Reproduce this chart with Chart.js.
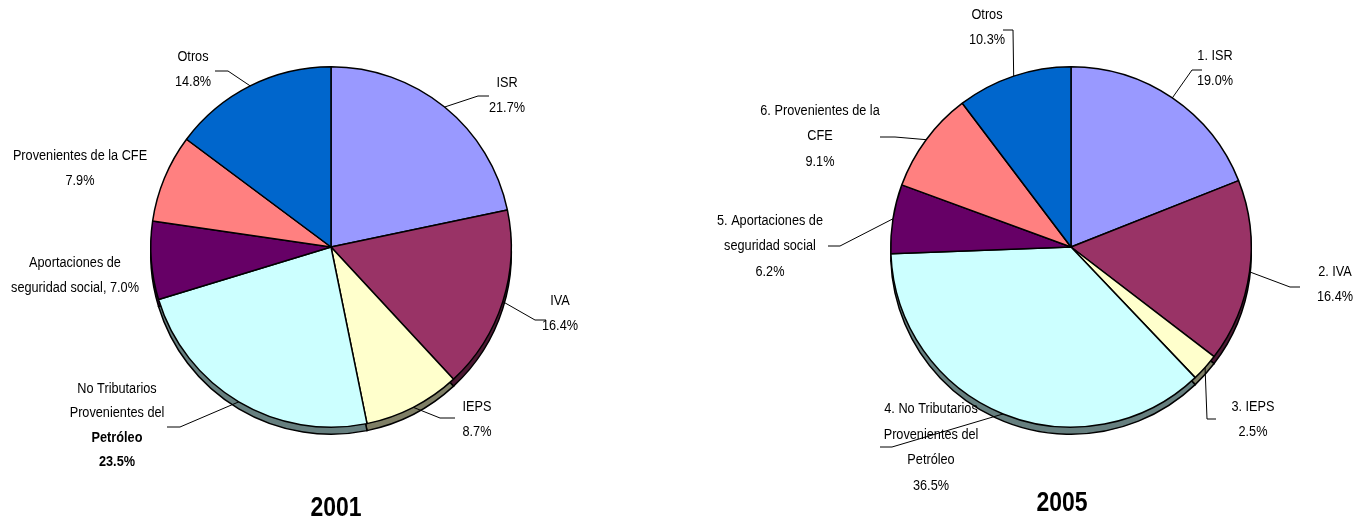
<!DOCTYPE html>
<html lang="es">
<head>
<meta charset="UTF-8">
<title>Ingresos presupuestarios 2001 y 2005</title>
<script src="https://cdn.jsdelivr.net/npm/chart.js"></script>
<style>
  html, body { margin: 0; padding: 0; background: #ffffff; }
  #wrap { position: relative; width: 1361px; height: 520px; overflow: hidden; }
  canvas { position: absolute; top: 0; }
  #pie2001 { left: 0; }
  #pie2005 { left: 680px; }
</style>
</head>
<body>
<div id="wrap">
  <canvas id="pie2001" width="680" height="520"></canvas>
  <canvas id="pie2005" width="681" height="520"></canvas>
</div>
<script>
// Composición de los ingresos (%), en el orden de las rebanadas a partir de las 12 en punto
const categories2001 = ['ISR', 'IVA', 'IEPS', 'No Tributarios Provenientes del Petróleo',
  'Aportaciones de seguridad social', 'Provenientes de la CFE', 'Otros'];
const values2001 = [21.7, 16.4, 8.7, 23.5, 7.0, 7.9, 14.8];

const categories2005 = ['1. ISR', '2. IVA', '3. IEPS', '4. No Tributarios Provenientes del Petróleo',
  '5. Aportaciones de seguridad social', '6. Provenientes de la CFE', 'Otros'];
const values2005 = [19.0, 16.4, 2.5, 36.5, 6.2, 9.1, 10.3];

// Colores de las rebanadas (paleta clásica de Excel)
const sliceColors = ['#9999ff', '#993366', '#ffffcc', '#ccffff', '#660066', '#ff8080', '#0066cc'];

// Texto de las etiquetas; {v} se sustituye por el porcentaje
const labelText2001 = [
  ['ISR', '{v}'],
  ['IVA', '{v}'],
  ['IEPS', '{v}'],
  ['No Tributarios', 'Provenientes del', 'Petróleo', '{v}'],
  ['Aportaciones de', 'seguridad social, {v}'],
  ['Provenientes de la CFE', '{v}'],
  ['Otros', '{v}']
];
const labelText2005 = [
  ['1. ISR', '{v}'],
  ['2. IVA', '{v}'],
  ['3. IEPS', '{v}'],
  ['4. No Tributarios', 'Provenientes del', 'Petróleo', '{v}'],
  ['5. Aportaciones de', 'seguridad social', '{v}'],
  ['6. Provenientes de la', 'CFE', '{v}'],
  ['Otros', '{v}']
];

// Ubicación de las etiquetas respecto al centro del pastel: [dx, dy]
const labelPos2001 = [[176, -153], [229, 65], [146, 171], [-214, 177], [-256, 27], [-251, -80], [-138, -179]];
const labelPos2005 = [[144, -180], [264, 36], [182, 171], [-140, 199], [-301, -2], [-251, -112], [-84, -221]];

// Líneas guía: codo y extremo respecto al centro [kx, ky, tx, ty]; null = sin línea
const leaders2001 = [[147, -151, 158, -151], [204, 73, 215, 73], [109, 171, 124, 171],
  [-151, 180, -164, 180], null, null, [-103, -176, -116, -176]];
const leaders2005 = [[121, -177, 131, -177], [219, 40, 229, 40], [136, 172, 145, 172],
  [-179, 200, -191, 200], [-231, -1, -243, -1], [-176, -110, -191, -110], [-58, -217, -68, -217]];

// Liberation Sans comprimida horizontalmente imita una fuente estrecha
const FONT = '"Liberation Sans", Arial, sans-serif';
const NARROW = 0.82;

function darken(hex) {
  const n = parseInt(hex.slice(1), 16);
  const r = ((n >> 16) & 255) >> 1, g = ((n >> 8) & 255) >> 1, b = (n & 255) >> 1;
  return 'rgb(' + r + ',' + g + ',' + b + ')';
}

function narrowText(ctx, s, x, y) {
  ctx.save();
  ctx.translate(x, y);
  ctx.scale(NARROW, 1);
  ctx.fillText(s, 0, 0);
  ctx.restore();
}

// Borde inferior en relieve: el pastel repetido unos píxeles más abajo en tono oscuro
const pieDepth = {
  id: 'pieDepth',
  beforeDatasetsDraw(chart, args, opts) {
    const ctx = chart.ctx;
    const meta = chart.getDatasetMeta(0);
    const colors = chart.data.datasets[0].backgroundColor;
    ctx.save();
    meta.data.forEach((arc, i) => {
      const p = arc.getProps(['x', 'y', 'startAngle', 'endAngle', 'outerRadius'], true);
      const cy = p.y + opts.depth;
      ctx.beginPath();
      ctx.moveTo(p.x, cy);
      ctx.arc(p.x, cy, p.outerRadius, p.startAngle, p.endAngle);
      ctx.closePath();
      ctx.fillStyle = darken(colors[i]);
      ctx.fill();
      ctx.lineWidth = 1.5;
      ctx.strokeStyle = '#000000';
      ctx.stroke();
    });
    ctx.restore();
  }
};

// Etiquetas de datos con líneas guía y título del año
const pieLabels = {
  id: 'pieLabels',
  afterDatasetsDraw(chart, args, opts) {
    const ctx = chart.ctx;
    const meta = chart.getDatasetMeta(0);
    const values = chart.data.datasets[0].data;
    ctx.save();
    ctx.fillStyle = '#000000';
    ctx.strokeStyle = '#000000';
    ctx.lineWidth = 1;
    ctx.textAlign = 'center';
    ctx.textBaseline = 'middle';
    meta.data.forEach((arc, i) => {
      const p = arc.getProps(['x', 'y', 'startAngle', 'endAngle', 'outerRadius'], true);
      const mid = (p.startAngle + p.endAngle) / 2;
      const lead = opts.leaders[i];
      if (lead) {
        ctx.beginPath();
        ctx.moveTo(p.x + Math.cos(mid) * p.outerRadius, p.y + Math.sin(mid) * p.outerRadius);
        ctx.lineTo(p.x + lead[0], p.y + lead[1]);
        ctx.lineTo(p.x + lead[2], p.y + lead[3]);
        ctx.stroke();
      }
      const lines = opts.text[i];
      const pos = opts.pos[i];
      const boldSet = opts.bold[i] || [];
      const top = p.y + pos[1] - (lines.length - 1) * opts.lineHeight / 2;
      lines.forEach((t, j) => {
        const s = t.replace('{v}', values[i].toFixed(1) + '%');
        ctx.font = (boldSet.includes(j) ? 'bold ' : '') + '15.5px ' + FONT;
        narrowText(ctx, s, p.x + pos[0], top + j * opts.lineHeight + 1);
      });
    });
    ctx.font = 'bold 28px ' + FONT;
    narrowText(ctx, opts.title, meta.data[0].x + opts.titleDx, opts.titleY);
    ctx.restore();
  }
};

function makePie(id, labels, values, text, pos, leaders, bold, padding, title, titleDx, titleY, lineHeight) {
  return new Chart(document.getElementById(id), {
    type: 'pie',
    data: {
      labels: labels,
      datasets: [{
        data: values,
        backgroundColor: sliceColors,
        borderColor: '#000000',
        borderWidth: 1.5,
        borderAlign: 'center'
      }]
    },
    options: {
      responsive: false,
      animation: false,
      layout: { padding: padding },
      plugins: {
        legend: { display: false },
        tooltip: { enabled: false },
        pieDepth: { depth: 7 },
        pieLabels: {
          text: text, pos: pos, leaders: leaders, bold: bold,
          title: title, titleDx: titleDx, titleY: titleY, lineHeight: lineHeight
        }
      }
    },
    plugins: [pieDepth, pieLabels]
  });
}

makePie('pie2001', categories2001, values2001, labelText2001, labelPos2001, leaders2001,
  { 3: [2, 3] }, { left: 150, top: 66, right: 168, bottom: 92 }, '2001', 5, 508, 24.5);

makePie('pie2005', categories2005, values2005, labelText2005, labelPos2005, leaders2005,
  {}, { left: 210, top: 66, right: 109, bottom: 92 }, '2005', -9, 503, 25.5);
</script>
</body>
</html>
